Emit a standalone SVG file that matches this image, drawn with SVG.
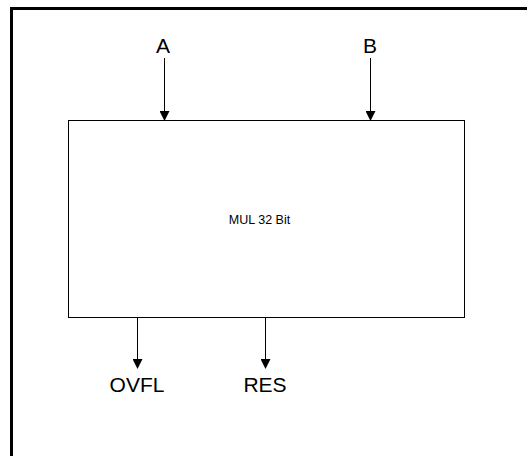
<svg xmlns="http://www.w3.org/2000/svg" width="527" height="456" viewBox="0 0 527 456">
<style>
.lbl{font-family:"Liberation Sans",Arial,sans-serif;font-size:21px;fill:#000;text-anchor:middle}
.small{font-family:"Liberation Sans",Arial,sans-serif;font-size:12.5px;fill:#000;text-anchor:middle}
.ln{stroke:#000;stroke-width:1;fill:none}
</style>
<defs>
<marker id="ah" markerWidth="10" markerHeight="10" refX="9" refY="5" orient="auto" markerUnits="userSpaceOnUse">
<path d="M0,0 L10,5 L0,10 Z" fill="#000"/>
</marker>
</defs>
<rect width="527" height="456" fill="#fff"/>
<g id="frame">
<path d="M11.5,456 V8.5 H527" stroke="#000" stroke-width="3" fill="none"/>
</g>
<g id="mul">
<rect x="68.5" y="120.5" width="396" height="197" fill="#fff" stroke="#000" stroke-width="1"/>
<text class="small" x="259.5" y="224">MUL 32 Bit</text>
</g>
<g id="A"><text class="lbl" x="163" y="53">A</text></g>
<g id="B"><text class="lbl" x="370" y="53">B</text></g>
<g id="OVFL"><text class="lbl" x="137" y="392">OVFL</text></g>
<g id="RES"><text class="lbl" x="265" y="392">RES</text></g>
<g id="connectors">
<line class="ln" x1="164.5" y1="58" x2="164.5" y2="120" marker-end="url(#ah)"/>
<line class="ln" x1="370.5" y1="58" x2="370.5" y2="120" marker-end="url(#ah)"/>
<line class="ln" x1="137.5" y1="318" x2="137.5" y2="368" marker-end="url(#ah)"/>
<line class="ln" x1="265.5" y1="318" x2="265.5" y2="368" marker-end="url(#ah)"/>
</g>
</svg>
